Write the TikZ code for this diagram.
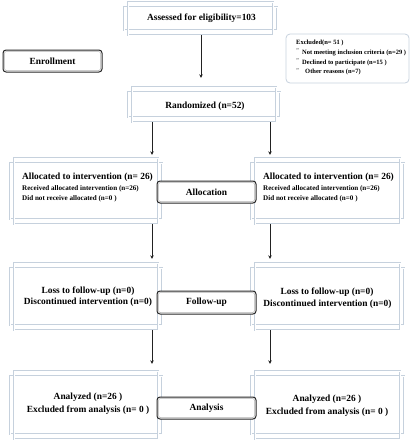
\documentclass[tikz,border=0pt]{standalone}
\usepackage{fontspec}
\setmainfont{Liberation Serif}
\usetikzlibrary{arrows.meta,fit}
\definecolor{frc}{HTML}{C6D1DD}
\definecolor{arc}{HTML}{222222}
\newcommand\frbox[5]{%
  \node[box, fit={(#2,#3) (#4,#5)}] (#1) {};
  \draw[fr] (#2,#3+5) rectangle (#4,#5-5);
  \draw[fr] (#2+4,#3) rectangle (#4-4,#5);
}
\newcommand\labbox[4]{%
  \node[lab, minimum width=99pt, minimum height=#3] (#1) at #2 {#4};
  \draw[gray!60, line width=0.5pt, rounded corners=2pt] ([shift={(2pt,-2pt)}]#1.north west) rectangle ([shift={(-2pt,2pt)}]#1.south east);
}
\begin{document}
\begin{tikzpicture}[x=1pt,y=-1pt,
  box/.style={inner sep=0pt, draw=none},
  fr/.style={draw=frc, line width=0.5pt, double=white, double distance=0.9pt},
  lab/.style={draw=black!85, line width=1pt, rounded corners=3pt, fill=white, inner sep=0pt, font=\bfseries\fontsize{9.4}{11}\selectfont},
  txt/.style={inner sep=0pt, font=\bfseries\fontsize{9.4}{11}\selectfont},
  sm/.style={inner sep=0pt, anchor=west, font=\bfseries\fontsize{7.1}{8}\selectfont},
  xs/.style={inner sep=0pt, anchor=west, font=\bfseries\fontsize{6.5}{7}\selectfont},
  bul/.style={inner sep=0pt, anchor=west, text=gray, font=\bfseries\fontsize{6}{7}\selectfont},
  arr/.style={draw=arc, line width=0.8pt, -{Stealth[length=3.5pt,width=3.5pt]}}
]
\useasboundingbox (0,0) rectangle (413,440);

% framed boxes
\frbox{ass}{124}{2}{277}{35}
\frbox{rand}{128}{87}{280}{122}
\frbox{alL}{10}{158}{162}{224}
\frbox{alR}{251}{158}{404}{224}
\frbox{fuL}{10}{263}{162}{330}
\frbox{fuR}{251}{263}{404}{330}
\frbox{anL}{10}{371}{162}{439}
\frbox{anR}{251}{371}{404}{439}

% excluded box
\node[draw=frc, line width=0.8pt, rounded corners=4pt, inner sep=0pt, fit={(286,34) (409,83)}] (exc) {};
\node[xs] (e0) at (296,43) {Excluded(n= 51 )};
\node[bul] (b1) at (296,51) {"};
\node[xs] (e1) at (302,52.5) {Not meeting inclusion criteria (n=29 )};
\node[bul] (b2) at (296,61) {"};
\node[xs] (e2) at (302,62.5) {Declined to participate (n=15 )};
\node[bul] (b3) at (296,70.5) {"};
\node[xs] (e3) at (305,72) {Other reasons (n=7)};

% texts
\node[txt] (t1) at (201.5,18) {Assessed for eligibility=103};
\node[txt] (t2) at (205,106) {Randomized (n=52)};

\node[txt, anchor=west] (aL1) at (22,177) {Allocated to intervention (n= 26)};
\node[sm] (aL2) at (22,189) {Received allocated intervention (n=26)};
\node[sm] (aL3) at (22,199) {Did not receive allocated (n=0 )};
\node[txt, anchor=west] (aR1) at (263,177) {Allocated to intervention (n= 26)};
\node[sm] (aR2) at (263,189) {Received allocated intervention (n=26)};
\node[sm] (aR3) at (263,199) {Did not receive allocated (n=0 )};

\node[txt] (fL1) at (88,291) {Loss to follow-up (n=0)};
\node[txt] (fL2) at (88,302.5) {Discontinued intervention (n=0)};
\node[txt] (fR1) at (327,292) {Loss to follow-up (n=0)};
\node[txt] (fR2) at (327.5,304) {Discontinued intervention (n=0)};

\node[txt] (nL1) at (88,397) {Analyzed (n=26 )};
\node[txt] (nL2) at (88,410) {Excluded from analysis (n= 0 )};
\node[txt] (nR1) at (327,399) {Analyzed (n=26 )};
\node[txt] (nR2) at (327,412) {Excluded from analysis (n= 0 )};

% label boxes
\labbox{enr}{(52.5,61)}{22pt}{Enrollment}
\labbox{alloc}{(206.5,192)}{22pt}{Allocation}
\labbox{fup}{(206.5,302.5)}{23pt}{Follow-up}
\labbox{ana}{(206.5,408)}{22pt}{Analysis}

% arrows
\coordinate (cx) at (201,0);
\coordinate (lx) at (152,0);
\coordinate (rx) at (270,0);
\draw[arr] (cx |- ass.south) -- ([yshift=9pt]cx |- rand.north);
\draw[arr] (lx |- rand.south) -- ([yshift=3pt]lx |- alL.north);
\draw[arr] (rx |- rand.south) -- ([yshift=3pt]rx |- alR.north);
\draw[arr] (lx |- alL.south) -- ([yshift=4pt]lx |- fuL.north);
\draw[arr] (rx |- alR.south) -- ([yshift=4pt]rx |- fuR.north);
\draw[arr] (lx |- fuL.south) -- ([yshift=7pt]lx |- anL.north);
\draw[arr] (rx |- fuR.south) -- ([yshift=7pt]rx |- anR.north);
\end{tikzpicture}
\end{document}
